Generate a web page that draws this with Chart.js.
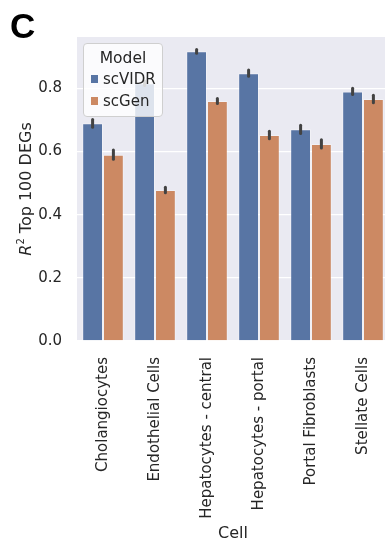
<!DOCTYPE html>
<html>
<head>
<meta charset="utf-8">
<script src="https://cdn.jsdelivr.net/npm/chart.js@4.4.1/dist/chart.umd.min.js"></script>
<style>
  html, body { margin: 0; padding: 0; background: #fff; overflow: hidden; }
  #wrap { position: relative; width: 389px; height: 550px; font-family: "DejaVu Sans", sans-serif; color: #262626; }
  #panel { position: absolute; left: 10px; top: 6px; font: bold 35px "Liberation Sans", Arial, sans-serif; color: #000; }
  #ytitle { position: absolute; left: 25px; top: 189px; transform: translate(-50%, -50%) rotate(-90deg); white-space: nowrap; font-size: 16px; }
  #xtitle { position: absolute; left: 233px; top: 532px; transform: translate(-50%, -50%); font-size: 16px; }
  #legend { position: absolute; left: 83px; top: 43px; width: 80px; height: 74px; box-sizing: border-box;
    background: rgba(255,255,255,0.8); border: 1px solid #cfcfcf; border-radius: 4px; font-size: 15px; }
  #legend .ttl { text-align: center; margin-top: 4px; line-height: 20px; font-size: 15.5px; }
  #legend .row { position: relative; height: 22px; line-height: 22px; padding-left: 19px; }
  #legend .sw { position: absolute; left: 7px; top: 7px; width: 7px; height: 8px; }
</style>
</head>
<body>
<div id="wrap">
  <canvas id="chart" width="389" height="550"></canvas>
  <div id="panel">C</div>
  <div id="ytitle"><i>R</i><sup style="font-size:10px">2</sup> Top 100 DEGs</div>
  <div id="xtitle">Cell</div>
  <div id="legend">
    <div class="ttl">Model</div>
    <div class="row"><span class="sw" style="background:#5875a4"></span>scVIDR</div>
    <div class="row"><span class="sw" style="background:#cc8963"></span>scGen</div>
  </div>
</div>
<script>
  const cells = ['Cholangiocytes', 'Endothelial Cells', 'Hepatocytes - central', 'Hepatocytes - portal', 'Portal Fibroblasts', 'Stellate Cells'];
  const scVIDR = [0.689, 0.816, 0.917, 0.848, 0.670, 0.790];
  const scGen = [0.590, 0.478, 0.760, 0.652, 0.624, 0.766];
  const scVIDRErr = [0.012, 0.007, 0.006, 0.010, 0.013, 0.010];
  const scGenErr = [0.015, 0.009, 0.008, 0.012, 0.013, 0.012];
  const yTicks = [0.0, 0.2, 0.4, 0.6, 0.8];

  const errs = [scVIDRErr, scGenErr];

  const bgPlugin = {
    id: 'bg',
    beforeDraw(chart) {
      const a = chart.chartArea, c = chart.ctx;
      c.save();
      c.fillStyle = '#eaeaf2';
      c.fillRect(a.left, a.top, a.right - a.left, a.bottom - a.top);
      c.restore();
    }
  };

  const errPlugin = {
    id: 'errbars',
    afterDatasetsDraw(chart) {
      const c = chart.ctx, y = chart.scales.y;
      c.save();
      c.strokeStyle = '#424242';
      c.lineWidth = 3;
      c.lineCap = 'round';
      chart.data.datasets.forEach((ds, di) => {
        const meta = chart.getDatasetMeta(di);
        meta.data.forEach((bar, i) => {
          const v = ds.data[i], e = errs[di][i];
          c.beginPath();
          c.moveTo(bar.x, y.getPixelForValue(v - e));
          c.lineTo(bar.x, y.getPixelForValue(v + e));
          c.stroke();
        });
      });
      c.restore();
    }
  };

  new Chart(document.getElementById('chart').getContext('2d'), {
    type: 'bar',
    data: {
      labels: cells,
      datasets: [
        { label: 'scVIDR', data: scVIDR, backgroundColor: '#5875a4', borderColor: 'rgba(255,255,255,0.35)', borderWidth: 1 },
        { label: 'scGen', data: scGen, backgroundColor: '#cc8963', borderColor: 'rgba(255,255,255,0.35)', borderWidth: 1 }
      ]
    },
    options: {
      responsive: false,
      animation: false,
      events: [],
      layout: { padding: { top: 37, left: 0, right: 0, bottom: 0 } },
      datasets: { bar: { categoryPercentage: 0.8, barPercentage: 1.0 } },
      plugins: { legend: { display: false }, tooltip: { enabled: false } },
      scales: {
        x: {
          grid: { display: false },
          border: { display: false },
          ticks: { minRotation: 90, maxRotation: 90, padding: 8, color: '#262626', font: { family: 'DejaVu Sans', size: 15 } },
          afterFit(s) { s.height = 209; s.paddingLeft = 0; s.paddingRight = 0; }
        },
        y: {
          min: 0,
          max: 0.9624,
          afterBuildTicks(s) { s.ticks = yTicks.map(v => ({ value: v })); },
          grid: { color: '#ffffff', lineWidth: 1.3, drawTicks: false },
          border: { display: false },
          ticks: { padding: 15, color: '#262626', font: { family: 'DejaVu Sans', size: 15 }, callback: v => v.toFixed(1) },
          afterFit(s) { s.width = 77; s.paddingTop = 0; s.paddingBottom = 0; }
        }
      }
    },
    plugins: [bgPlugin, errPlugin]
  });
</script>
</body>
</html>
